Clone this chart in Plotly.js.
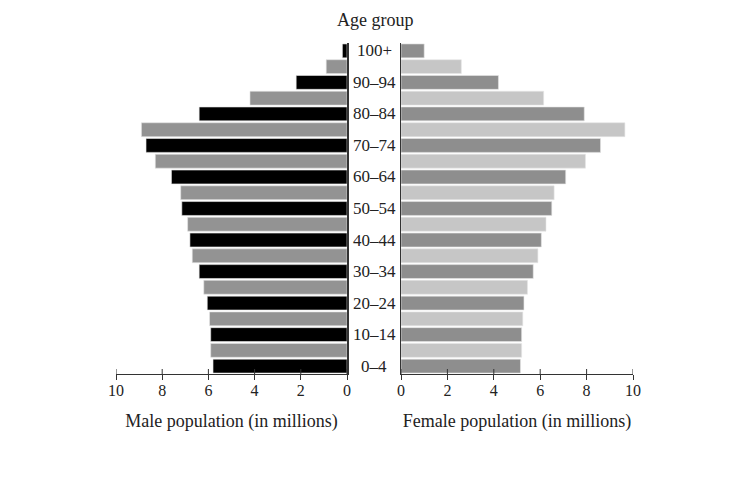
<!DOCTYPE html>
<html>
<head>
<meta charset="utf-8">
<script src="https://cdn.plot.ly/plotly-3.0.1.min.js"></script>
<style>
  html, body { margin: 0; padding: 0; background: #fff; }
  #chart { width: 740px; height: 486px; }
</style>
</head>
<body>
<div id="chart"></div>
<script>
// Five-year age groups, youngest first
const ageGroups = [
  '0–4', '5–9', '10–14', '15–19', '20–24', '25–29', '30–34', '35–39',
  '40–44', '45–49', '50–54', '55–59', '60–64', '65–69', '70–74',
  '75–79', '80–84', '85–89', '90–94', '95–99', '100+'
];

// Population in millions
const malePop = [
  5.8, 5.9, 5.9, 5.95, 6.05, 6.2, 6.4, 6.7, 6.8, 6.9, 7.15,
  7.2, 7.6, 8.3, 8.7, 8.9, 6.4, 4.2, 2.2, 0.9, 0.2
];
const femalePop = [
  5.15, 5.2, 5.2, 5.25, 5.3, 5.45, 5.7, 5.9, 6.05, 6.25, 6.5,
  6.6, 7.1, 7.95, 8.6, 9.65, 7.9, 6.15, 4.2, 2.6, 1.0
];

// Labelled age groups on the centre column
const shownAgeLabels = ['0–4', '10–14', '20–24', '30–34', '40–44', '50–54',
                        '60–64', '70–74', '80–84', '90–94', '100+'];

const popTicks = [0, 2, 4, 6, 8, 10];

const maleColors = ageGroups.map((_, i) => i % 2 === 0 ? '#000000' : '#939393');
const femaleColors = ageGroups.map((_, i) => i % 2 === 0 ? '#8e8e8e' : '#c6c6c6');

const serif = 'Liberation Serif, Times New Roman, serif';

const traces = [
  {
    type: 'bar', orientation: 'h',
    x: malePop, y: ageGroups,
    xaxis: 'x', yaxis: 'y',
    marker: { color: maleColors, line: { width: 0.6, color: '#e6e6e6' } },
    hoverinfo: 'skip', showlegend: false
  },
  {
    type: 'bar', orientation: 'h',
    x: femalePop, y: ageGroups,
    xaxis: 'x2', yaxis: 'y2',
    marker: { color: femaleColors, line: { width: 0.6, color: '#e6e6e6' } },
    hoverinfo: 'skip', showlegend: false
  }
];

const leftDomain = [0, 231 / 517];
const rightDomain = [285 / 517, 1];
const plotHeight = 486 - 43 - 112;

const baseX = {
  showgrid: false, zeroline: false,
  showline: true, linecolor: '#333', linewidth: 1,
  ticks: 'outside', ticklen: 5, tickwidth: 1, tickcolor: '#333',
  tickvals: popTicks, ticktext: popTicks.map(String),
  ticklabelstandoff: -3,
  tickfont: { family: serif, size: 16, color: '#222' },
  fixedrange: true
};

const baseY = {
  type: 'category', categoryorder: 'array', categoryarray: ageGroups,
  range: [-0.5, 20.5],
  showgrid: false, zeroline: false,
  showline: true, linecolor: '#333', linewidth: 1.5,
  ticks: '', showticklabels: false, fixedrange: true
};

// Upper half of each tick mark, so the ticks cross the axis line
const tickUpper = [];
['x', 'x2'].forEach(ax => {
  popTicks.forEach(v => {
    tickUpper.push({
      type: 'line', xref: ax, yref: 'paper',
      x0: v, x1: v, y0: 0, y1: 5 / plotHeight,
      line: { color: '#333', width: 1 }, layer: 'above'
    });
  });
});

const annotations = shownAgeLabels.map(label => ({
  text: label, xref: 'paper', yref: 'y', x: 258 / 517, y: label,
  xanchor: 'center', yanchor: 'middle', showarrow: false,
  font: { family: serif, size: 17, color: '#222' }
}));

annotations.push({
  text: 'Age group', xref: 'paper', yref: 'paper',
  x: 259 / 517, y: 1, yshift: 23, xanchor: 'center', yanchor: 'middle',
  showarrow: false, font: { family: serif, size: 18, color: '#222' }
});

const layout = {
  width: 740, height: 486,
  margin: { l: 116, r: 107, t: 43, b: 112 },
  paper_bgcolor: '#fff', plot_bgcolor: '#fff',
  bargap: 0.12,
  xaxis: Object.assign({}, baseX, {
    domain: leftDomain, range: [10, 0], anchor: 'y',
    title: { text: 'Male population (in millions)', standoff: 16,
             font: { family: serif, size: 18, color: '#222' } }
  }),
  xaxis2: Object.assign({}, baseX, {
    domain: rightDomain, range: [0, 10], anchor: 'y2',
    title: { text: 'Female population (in millions)', standoff: 16,
             font: { family: serif, size: 18, color: '#222' } }
  }),
  yaxis: Object.assign({}, baseY, { anchor: 'x', side: 'right' }),
  yaxis2: Object.assign({}, baseY, { anchor: 'x2', side: 'left' }),
  shapes: tickUpper,
  annotations: annotations
};

Plotly.newPlot('chart', traces, layout, { staticPlot: true, displayModeBar: false });
</script>
</body>
</html>
